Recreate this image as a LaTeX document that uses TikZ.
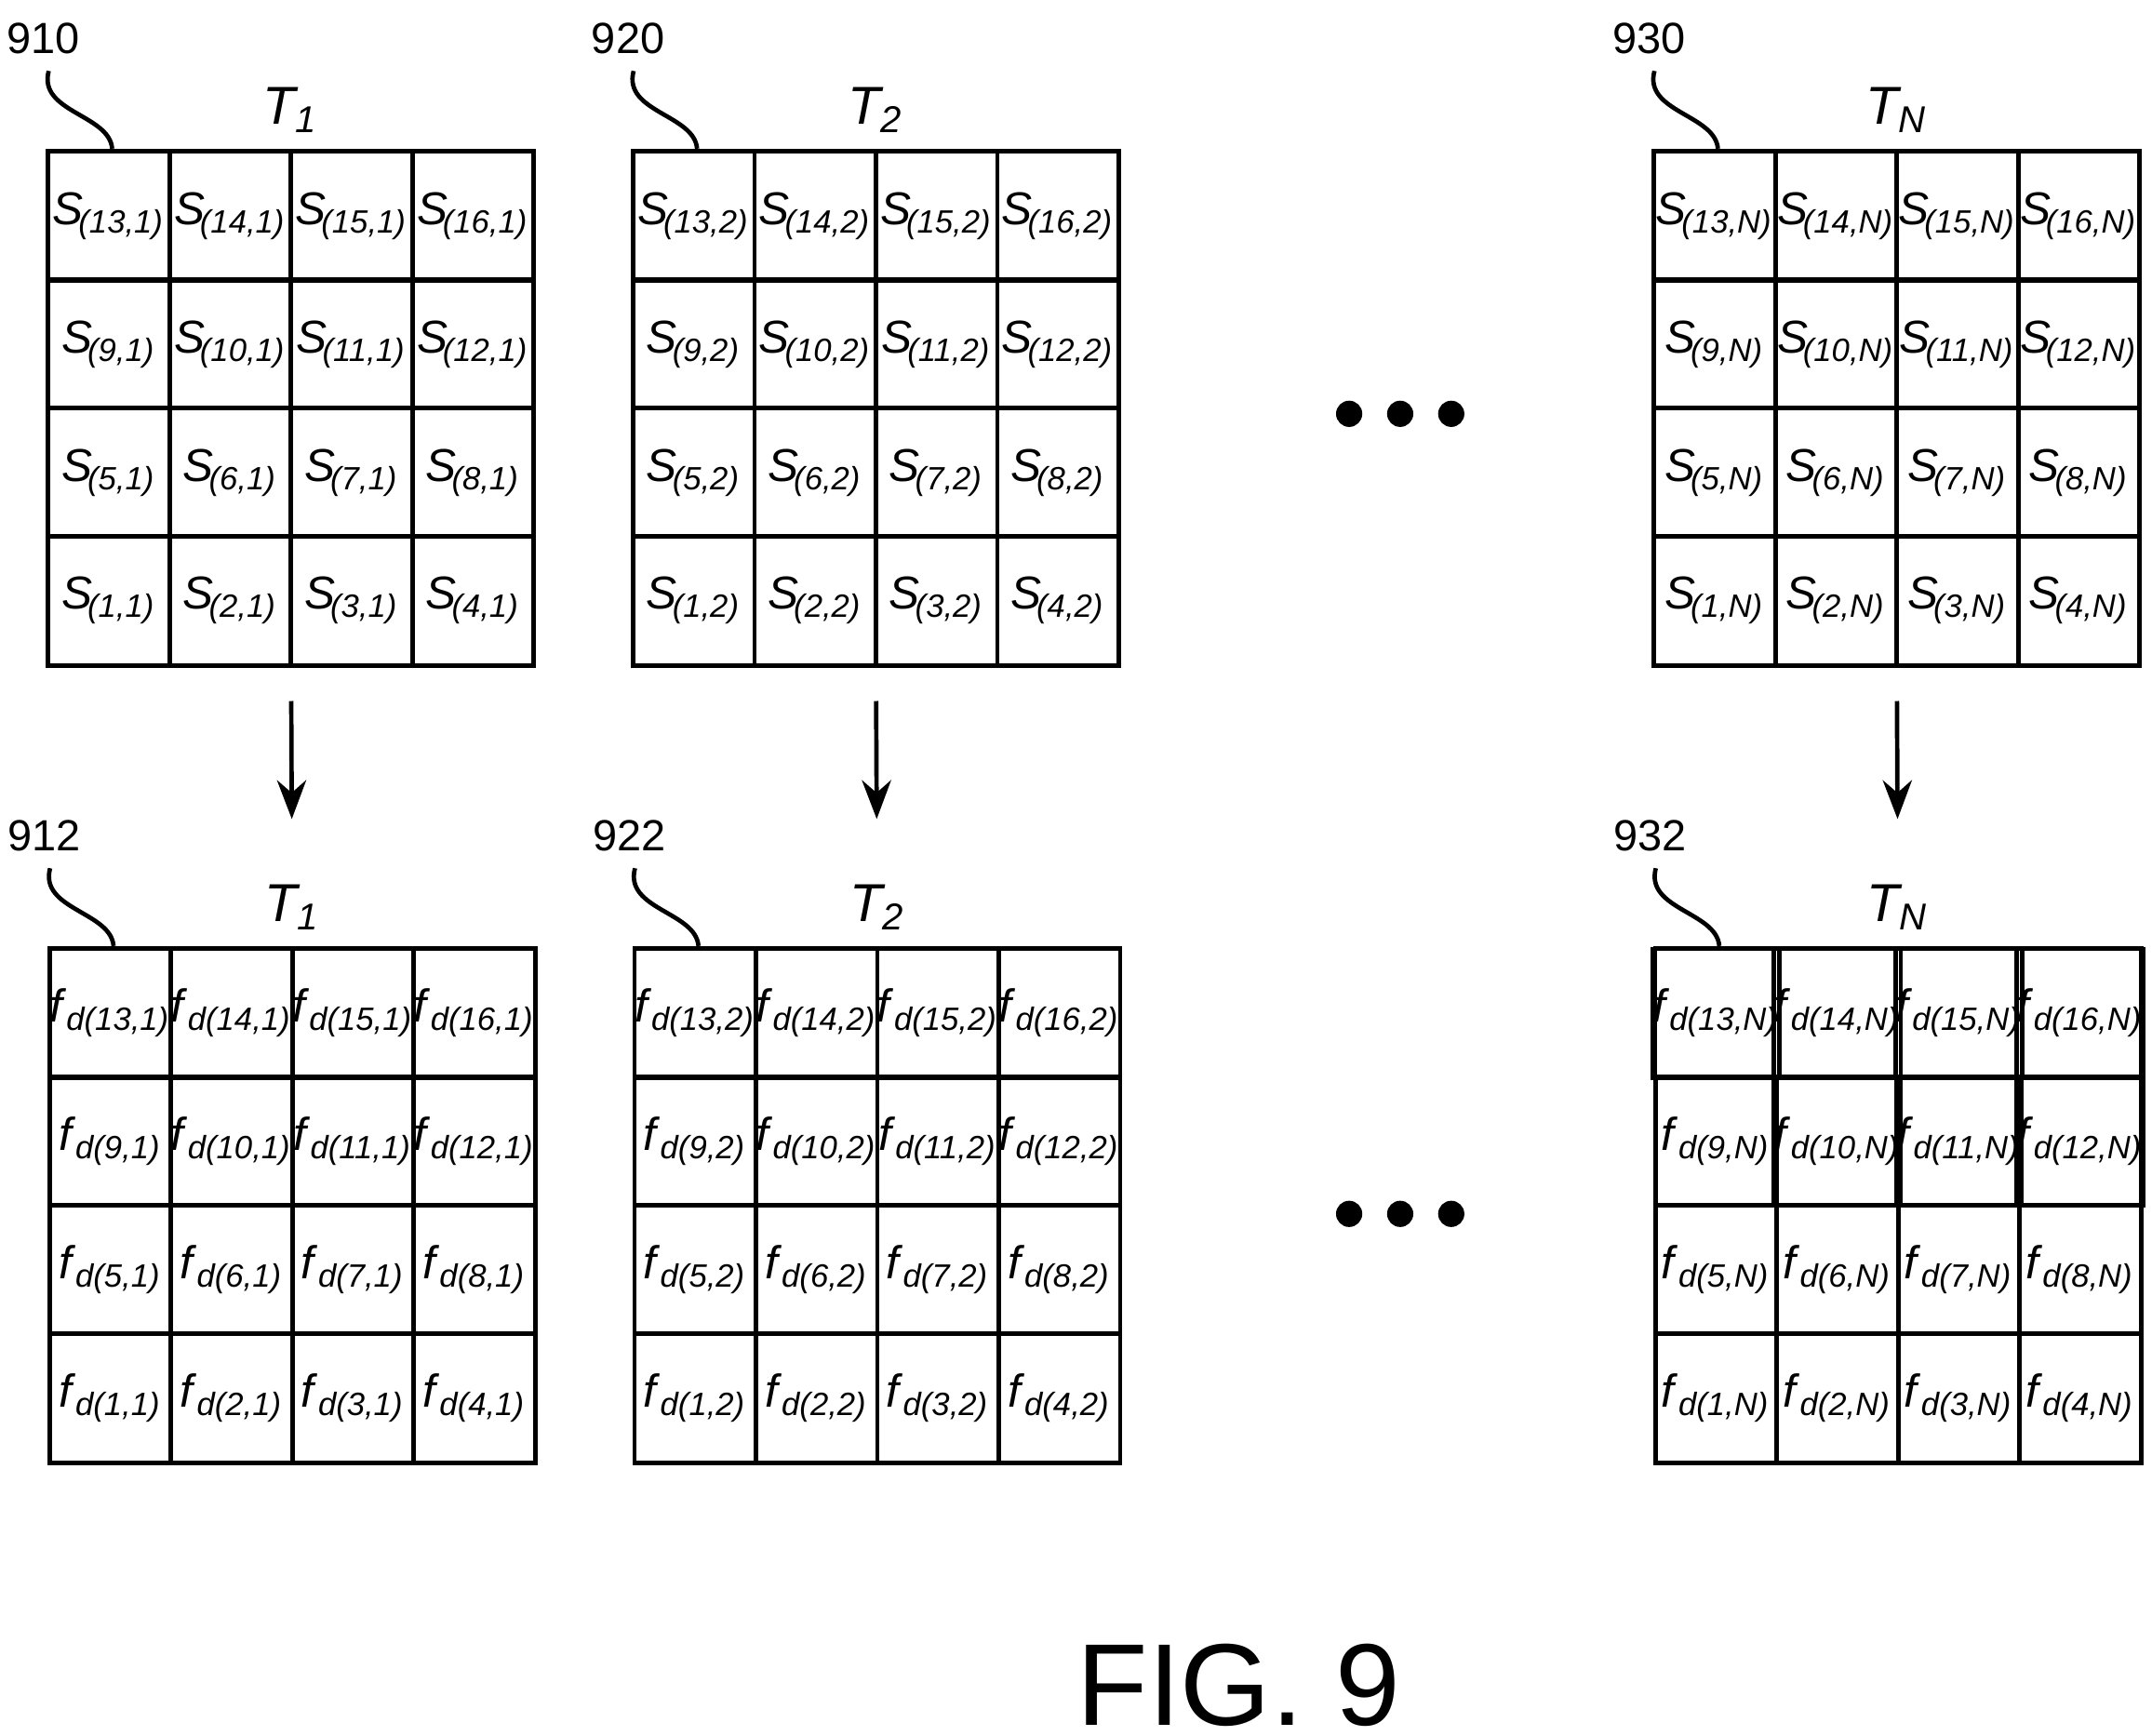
\documentclass[tikz,border=0pt]{standalone}
\usepackage{fontspec}
\setmainfont{Liberation Sans}
\usetikzlibrary{arrows.meta,positioning,calc}

\begin{document}
\begin{tikzpicture}[x=0.01cm,y=-0.01cm,
  gridbox/.style={rectangle,draw,line width=0.9pt,minimum width=3.52cm,
                  minimum height=3.73cm,inner sep=0pt},
  cell/.style={rectangle,draw,line width=0.9pt,minimum width=0.88cm,
               minimum height=0.9325cm,inner sep=0pt,font=\fontsize{9.5}{11}\selectfont},
  refnum/.style={font=\fontsize{9}{11}\selectfont},
  title/.style={font=\fontsize{11}{13}\selectfont\itshape},
  flow/.style={-{Stealth[length=8pt,width=6pt]},line width=0.9pt,
               shorten <=0.24cm,shorten >=0.92cm},
  dot/.style={circle,fill,inner sep=0pt,minimum size=0.19cm}
]
\useasboundingbox (0,0) rectangle (1560,1258);

% ---- grids: numeral / centre x / centre y / sub / letter ----
\foreach \rn/\cx/\cy/\sub/\kind in {910/211/296/1/S,920/635/296/2/S,930/1375/296/N/S,
                                    912/212/874/1/f,922/636/874/2/f,932/1376/874/N/f}{
  \node[gridbox] (g\rn) at (\cx,\cy) {};
  \foreach \r in {0,...,3}{
    \foreach \c in {0,...,3}{
      \pgfmathtruncatemacro{\idx}{4*(3-\r)+\c+1}
      \if\kind S
        \node[cell] (g\rn c\idx) at (\cx-132+88*\c,\cy-139.5+93*\r)
          {\textit{S}\kern-1pt\textsubscript{\textit{(\idx,\sub)}}};
      \else
        \node[cell] (g\rn c\idx) at (\cx-132+88*\c,\cy-139.5+93*\r)
          {\textit{f}\textsubscript{\textit{d(\idx,\sub)}}};
      \fi
    }
  }
  % reference numeral with leader
  \node[refnum] (l\rn) at ($(g\rn.north west)+(-2,-80)$) {\rn};
  \draw[line width=0.9pt] ($(l\rn.south)+(4,0)$) .. controls ($(l\rn.south)+(-4,30)$)
    and ($(g\rn.north west)+(46,-25)$) .. ($(g\rn.north west)+(48,0)$);
  % title
  \node[title] (t\rn) at ($(g\rn.north)+(0,-28)$) {T\textsubscript{\sub}};
}

% ---- arrows between grids ----
\draw[flow] (g910.south) -- (g912.north);
\draw[flow] (g920.south) -- (g922.north);
\draw[flow] (g930.south) -- (g932.north);

% ---- ellipsis dots ----
\foreach \y/\n in {300/a,880/b}{
  \node[dot] (d\n1) at (978,\y) {};
  \node[dot] (d\n2) at (1015,\y) {};
  \node[dot] (d\n3) at (1052,\y) {};
}

% ---- figure label ----
\node[font=\fontsize{24}{28}\selectfont] (fig) at (898,1222) {FIG. 9};
\end{tikzpicture}
\end{document}
